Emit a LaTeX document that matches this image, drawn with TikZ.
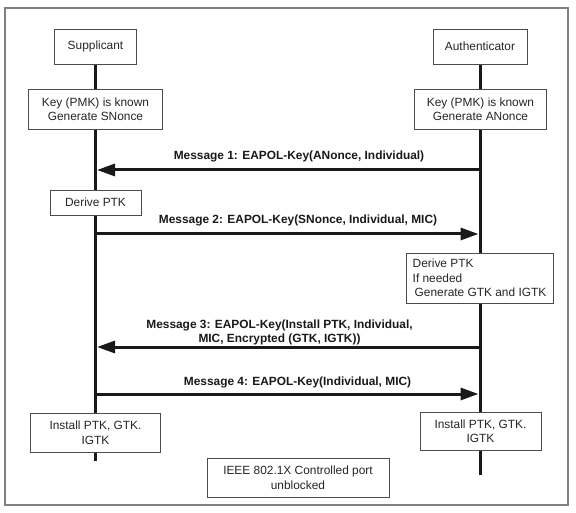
\documentclass[tikz,border=0pt]{standalone}
\usepackage{fontspec}
\setmainfont{Liberation Sans}
\usetikzlibrary{arrows.meta,backgrounds}

\begin{document}
\begin{tikzpicture}[x=1pt,y=-1pt,
  box/.style={draw=black!70,line width=0.8pt,fill=white,text=black!85,
    align=center,inner sep=0pt,font=\fontsize{11.9}{14.5}\selectfont},
  msg/.style={text=black!90,align=center,inner sep=0pt,
    font=\bfseries\fontsize{11.9}{14}\selectfont},
  life/.style={line width=3pt,black!90},
  link/.style={line width=3pt,black!90,-{Triangle[length=18pt,width=12pt]}}]
\useasboundingbox (0,0) rectangle (576,513);
\draw[black!50,line width=1.2pt] (5,8) rectangle (568,505);

% Entities
\node[box,minimum width=82,minimum height=35] (sup) at (95.5,46.5) {Supplicant};
\node[box,minimum width=94,minimum height=35] (auth) at (480,46.5) {Authenticator};

% Supplicant side
\node[box,minimum width=134,minimum height=40] (skey) at (95.5,109) {Key (PMK) is known\\Generate SNonce};
\node[box,minimum width=91,minimum height=25] (sptk) at (95.5,202.5) {Derive PTK};
\node[box,minimum width=130,minimum height=39] (sinst) at (95.5,432.5) {Install PTK, GTK.\\IGTK};

% Authenticator side
\node[box,minimum width=132,minimum height=40] (akey) at (480.5,109) {Key (PMK) is known\\Generate ANonce};
\node[box,minimum width=147,minimum height=50,align=left] (aptk) at (479.5,278)
  {Derive PTK\\If needed\\\hspace{2pt}Generate GTK and IGTK};
\node[box,minimum width=121,minimum height=38] (ainst) at (480.5,431) {Install PTK, GTK.\\IGTK};

% Port
\node[box,minimum width=182,minimum height=39] (port) at (298,477.5) {IEEE 802.1X Controlled port\\unblocked};

% Lifelines
\coordinate (send) at (95.5,461);
\coordinate (aend) at (480,475);
\begin{scope}[on background layer]
\draw[life] (sup.south) -- (send);
\draw[life] (auth.south) -- (aend);
\end{scope}

% Messages
\coordinate (a1) at (480,170);  \coordinate (s1) at (97,170);
\coordinate (s2) at (95.5,234); \coordinate (a2) at (478.5,234);
\coordinate (a3) at (480,347);  \coordinate (s3) at (97,347);
\coordinate (s4) at (95.5,394); \coordinate (a4) at (478.5,394);
\draw[link] (a1) -- (s1);
\draw[link] (s2) -- (a2);
\draw[link] (a3) -- (s3);
\draw[link] (s4) -- (a4);

% Message labels
\node[msg] (m1) at (299,156) {Message 1: EAPOL-Key(ANonce, Individual)};
\node[msg] (m2) at (298,220) {Message 2: EAPOL-Key(SNonce, Individual, MIC)};
\node[msg] (m3) at (279.5,332) {Message 3: EAPOL-Key(Install PTK, Individual,\\MIC, Encrypted (GTK, IGTK))};
\node[msg] (m4) at (297.5,382) {Message 4: EAPOL-Key(Individual, MIC)};

\end{tikzpicture}
\end{document}
